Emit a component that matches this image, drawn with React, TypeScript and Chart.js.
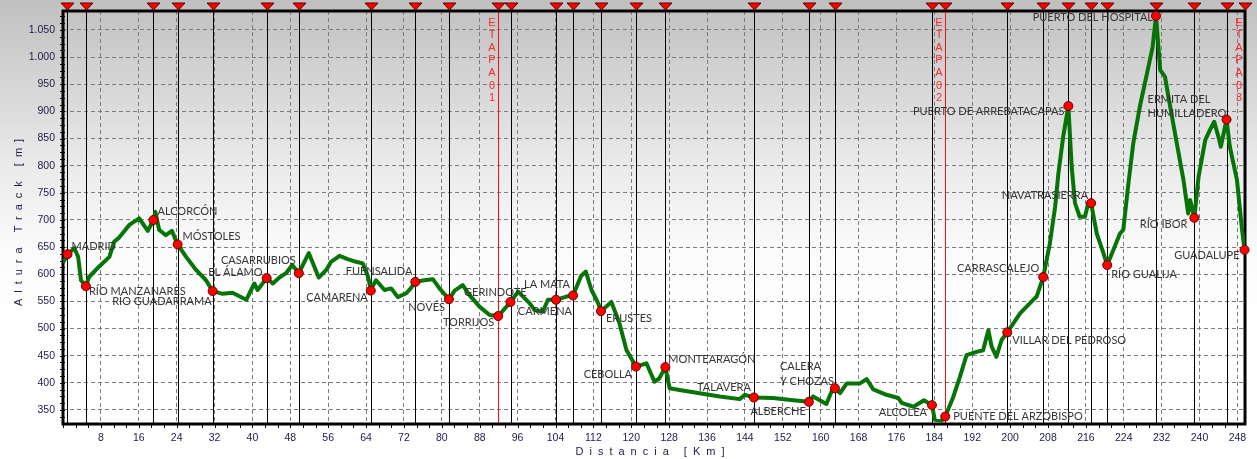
import React, { useEffect, useRef } from 'react';
import { Chart, registerables } from 'chart.js';

Chart.register(...registerables);

// ---------------- DATA ----------------
const PROFILE_KM = [
  0.0, 0.95, 2.4, 3.2, 3.8, 4.84, 5.5, 7.6, 9.8, 10.8, 11.9, 14.0, 16.1, 17.9, 19.1, 19.5, 20.3, 21.7, 23.0, 24.2,
  26.0, 28.1, 30.2, 31.6, 33.7, 35.8, 38.7, 40.4, 41.1, 43.0, 44.3, 45.7, 47.1, 48.4, 49.8, 51.9, 54.0, 55.6, 56.6,
  58.4, 60.1, 61.9, 63.3, 64.4, 65.0, 66.1, 67.9, 69.3, 70.7, 72.5, 73.5, 74.4, 76.3, 78.1, 79.5, 81.5, 82.7, 84.4,
  85.8, 88.0, 90.1, 91.9, 94.5, 96.1, 98.5, 99.6, 101.3, 102.4, 104.1, 106.3, 107.7, 109.4, 110.4, 111.6, 113.0,
  113.6, 115.8, 117.5, 119.0, 121.0, 123.2, 124.9, 125.9, 127.2, 128.1, 130.2, 134.4, 138.7, 142.9, 144.0, 145.9,
  149.9, 154.2, 157.5, 158.4, 161.2, 162.3, 163.0, 164.1, 165.5, 168.3, 169.7, 171.1, 173.9, 176.4, 177.1, 179.6,
  181.8, 183.5, 184.1, 185.5, 186.3, 188.0, 189.4, 190.8, 192.9, 194.3, 195.4, 196.1, 197.1, 198.2, 199.4, 202.1,
  204.2, 205.6, 207.0, 208.4, 209.5, 210.2, 211.2, 212.3, 213.0, 213.7, 214.7, 215.8, 216.5, 217.1, 218.3, 219.7,
  220.5, 222.1, 223.2, 223.9, 224.9, 226.0, 227.4, 229.2, 230.1, 230.8, 231.7, 232.7, 233.8, 235.2, 236.6, 237.6,
  238.0, 238.9, 239.8, 241.2, 242.2, 243.1, 244.0, 244.5, 245.7, 246.4, 247.9, 248.9, 249.5,
];
const PROFILE_ELEV = [
  621, 637, 648, 632, 589, 578, 595, 614, 632, 660, 668, 691, 703, 680, 700, 715, 682, 672, 680, 655,
  632, 608, 589, 569, 564, 566, 553, 583, 571, 593, 583, 594, 602, 617, 602, 639, 594, 608, 623,
  634, 628, 623, 620, 596, 572, 589, 571, 574, 558, 565, 575, 586, 589, 591, 574, 554, 570, 580,
  562, 540, 525, 523, 549, 568, 547, 534, 531, 553, 553, 559, 561, 597, 605, 571, 547,
  532, 549, 510, 460, 430, 436, 402, 408, 429, 390, 387, 381, 375, 370, 378, 373,
  372, 368, 365, 375, 361, 384, 390, 381, 399, 399, 407, 388, 378, 372, 363, 356,
  368, 359, 332, 330, 338, 374, 411, 451, 457, 460, 497, 467, 448, 479, 493, 528,
  547, 559, 595, 657, 724, 786, 853, 910, 798, 731, 706, 706, 731, 731, 675, 639,
  617, 651, 675, 682, 761, 841, 909, 982, 1019, 1076, 976, 964, 909, 841, 774, 712,
  737, 704, 780, 847, 866, 881, 853, 835, 885, 835, 774, 688, 645,
];

const WAYPOINT_NAMES = [
  'MADRID', 'RÍO MANZANARES', 'ALCORCÓN', 'MÓSTOLES', 'RÍO GUADARRAMA', 'EL ÁLAMO', 'CASARRUBIOS', 'CAMARENA',
  'FUENSALIDA', 'NOVÉS', 'TORRIJOS', 'GERINDOTE', 'CARMENA', 'LA MATA', 'ERUSTES', 'CEBOLLA', 'MONTEARAGÓN',
  'TALAVERA', 'ALBERCHE', 'CALERA\nY CHOZAS', 'ALCOLEA', 'PUENTE DEL ARZOBISPO', 'VILLAR DEL PEDROSO',
  'CARRASCALEJO', 'PUERTO DE ARREBATACAPAS', 'NAVATRASIERRA', 'RÍO GUALIJA', 'PUERTO DEL HOSPITAL', 'RÍO IBOR',
  'ERMITA DEL\nHUMILLADERO', 'GUADALUPE',
];
const WAYPOINT_KM = [
  0.95, 4.84, 19.1, 24.2, 31.6, 43.0, 49.8, 65.0, 74.4, 81.5, 91.9, 94.5, 104.1, 107.7, 113.6, 121.0, 127.2,
  145.9, 157.5, 163.0, 183.5, 186.3, 199.4, 207.0, 212.3, 217.1, 220.5, 230.8, 238.9, 245.7, 249.5,
];
const WAYPOINT_ELEV = [
  637, 578, 700, 655, 569, 593, 602, 570, 586, 554, 523, 549, 553, 561, 532, 430, 429,
  373, 365, 390, 359, 338, 493, 595, 910, 731, 617, 1076, 704, 885, 645,
];

const STAGE_KM = [91.9, 186.3, 249.5];
const STAGE_LABELS = ['ETAPA 01', 'ETAPA 02', 'ETAPA 03'];

const X_TICKS = [8, 16, 24, 32, 40, 48, 56, 64, 72, 80, 88, 96, 104, 112, 120, 128, 136, 144, 152, 160, 168, 176, 184, 192, 200, 208, 216, 224, 232, 240, 248];
const Y_TICKS = [350, 400, 450, 500, 550, 600, 650, 700, 750, 800, 850, 900, 950, 1000, 1050];
const X_TITLE = 'Distancia [Km]';
const Y_TITLE = 'Altura Track [m]';

// ---------------- STYLE (label placement relative to its marker) ----------------
const LABEL_PLACEMENT: Array<[CanvasTextAlign, number, number]> = [
  ['left', 4, -8], ['left', 3, 5], ['left', 4, -9], ['left', 5, -8], ['right', -1, 10], ['right', -4, -6],
  ['right', -3, -13], ['right', -3, 7], ['right', -3, -10], ['right', -4, 8], ['right', -4, 6], ['right', 16, -10],
  ['right', 16, 12], ['right', -3, -11], ['left', 5, 7], ['right', -4, 8], ['left', 3, -8], ['right', -3, -10],
  ['right', -3, 10], ['left', -55, -21.5], ['right', -5, 7], ['left', 8, 0], ['left', 5, 8], ['right', -4, -9],
  ['right', -4, 5], ['right', -3, -8], ['left', 4, 9], ['right', -3, 2], ['right', -7, 7], ['left', -79, -20],
  ['right', -5, 6],
];

const GREEN = 'rgb(6,116,6)';
const AXIS_TEXT = '#1c1c48';
const TICK_FONT = { family: '"Liberation Sans", Arial, sans-serif', size: 10.5 };

const fmtThousands = (v: number) => {
  const s = String(Math.round(v));
  return s.length > 3 ? s.slice(0, s.length - 3) + '.' + s.slice(s.length - 3) : s;
};

const decorPlugin = {
  id: 'profileDecor',
  beforeDraw(chart: any) {
    const { ctx, width, height } = chart;
    const g = ctx.createLinearGradient(0, 0, 0, height);
    g.addColorStop(0, '#c0c0c0');
    g.addColorStop(0.35, '#e9e9e9');
    g.addColorStop(0.55, '#fbfbfb');
    g.addColorStop(0.7, '#ffffff');
    g.addColorStop(1, '#ffffff');
    ctx.save();
    ctx.fillStyle = g;
    ctx.fillRect(0, 0, width, height);
    ctx.restore();
  },
  beforeDatasetsDraw(chart: any) {
    const { ctx, chartArea: a, scales } = chart;
    const x = scales.x;
    ctx.save();
    ctx.lineWidth = 1;
    WAYPOINT_KM.forEach((km) => {
      if (STAGE_KM.some((s) => Math.abs(s - km) < 0.05)) return;
      const px = Math.round(x.getPixelForValue(km)) + 0.5;
      ctx.strokeStyle = '#000';
      ctx.beginPath();
      ctx.moveTo(px, a.top);
      ctx.lineTo(px, a.bottom);
      ctx.stroke();
    });
    STAGE_KM.forEach((km) => {
      const px = Math.round(x.getPixelForValue(km)) + 0.5;
      ctx.strokeStyle = '#ff1010';
      ctx.beginPath();
      ctx.moveTo(px, a.top);
      ctx.lineTo(px, a.bottom);
      ctx.stroke();
    });
    // frame
    ctx.strokeStyle = '#000';
    ctx.lineWidth = 3;
    ctx.strokeRect(a.left, a.top, a.right - a.left, a.bottom - a.top);
    // minor ticks
    ctx.lineWidth = 1;
    for (let k = 0; k <= 249.6; k += 8 / 3) {
      const px = Math.round(x.getPixelForValue(k)) + 0.5;
      ctx.beginPath();
      ctx.moveTo(px, a.bottom + 1);
      ctx.lineTo(px, a.bottom + 4);
      ctx.stroke();
    }
    const y = scales.y;
    for (let v = 337.5; v <= 1085; v += 12.5) {
      const py = Math.round(y.getPixelForValue(v)) + 0.5;
      ctx.beginPath();
      ctx.moveTo(a.left - 3, py);
      ctx.lineTo(a.left + 2, py);
      ctx.stroke();
    }
    ctx.restore();
  },
  afterDatasetsDraw(chart: any) {
    const { ctx, chartArea: a, scales } = chart;
    const x = scales.x;
    const y = scales.y;
    ctx.save();
    // waypoint labels
    ctx.font = '11px Lato, "Open Sans", sans-serif';
    ctx.fillStyle = '#363636';
    ctx.textBaseline = 'middle';
    WAYPOINT_NAMES.forEach((name, i) => {
      const [align, dx, dy] = LABEL_PLACEMENT[i];
      const px = x.getPixelForValue(WAYPOINT_KM[i]);
      const py = y.getPixelForValue(WAYPOINT_ELEV[i]);
      ctx.textAlign = align;
      name.split('\n').forEach((line, j) => {
        ctx.fillText(line, px + dx, py + dy + j * 14.3);
      });
    });
    // stage labels
    ctx.font = '11px "Liberation Sans", Arial, sans-serif';
    ctx.fillStyle = '#ff2a2a';
    ctx.textAlign = 'center';
    STAGE_KM.forEach((km, i) => {
      const px = Math.round(x.getPixelForValue(km)) - 6;
      const letters = STAGE_LABELS[i].replace(/\s/g, '').split('');
      letters.forEach((ch, j) => {
        ctx.fillText(ch, px, a.top + 11.5 + j * 12.6);
      });
    });
    ctx.restore();
  },
  afterDraw(chart: any) {
    const { ctx, chartArea: a, scales } = chart;
    const x = scales.x;
    ctx.save();
    // triangles
    WAYPOINT_KM.forEach((km) => {
      const px = Math.round(x.getPixelForValue(km)) + 0.5;
      ctx.beginPath();
      ctx.moveTo(px - 6.5, a.top - 8);
      ctx.lineTo(px + 6.5, a.top - 8);
      ctx.lineTo(px, a.top - 1);
      ctx.closePath();
      ctx.fillStyle = '#ff0000';
      ctx.fill();
      ctx.strokeStyle = '#5a0000';
      ctx.lineWidth = 1;
      ctx.stroke();
    });
    // axis titles
    ctx.fillStyle = AXIS_TEXT;
    ctx.font = '11px "Liberation Sans", Arial, sans-serif';
    ctx.textAlign = 'center';
    ctx.textBaseline = 'middle';
    try { (ctx as any).letterSpacing = '6px'; } catch (e) { /* ignore */ }
    ctx.fillText(X_TITLE, (a.left + a.right) / 2 - 1, 452);
    ctx.translate(19, (a.top + a.bottom) / 2 + 2);
    ctx.rotate(-Math.PI / 2);
    ctx.fillText(Y_TITLE, 0, 0);
    ctx.restore();
  },
};

export default function App() {
  const ref = useRef<HTMLCanvasElement>(null);
  useEffect(() => {
    const canvas = ref.current;
    if (!canvas) return;
    const chart = new Chart(canvas, {
      type: 'scatter',
      data: {
        datasets: [
          {
            label: 'Perfil',
            data: PROFILE_KM.map((km, i) => ({ x: km, y: PROFILE_ELEV[i] })),
            showLine: true,
            borderColor: GREEN,
            backgroundColor: GREEN,
            borderWidth: 4,
            pointRadius: 0,
            tension: 0,
            borderJoinStyle: 'round',
            order: 2,
          } as any,
          {
            label: 'Puntos',
            data: WAYPOINT_KM.map((km, i) => ({ x: km, y: WAYPOINT_ELEV[i] })),
            pointRadius: 4.5,
            backgroundColor: '#ff0000',
            borderColor: '#6a0000',
            borderWidth: 1,
            clip: false,
            order: 1,
          } as any,
        ],
      },
      options: {
        responsive: false,
        animation: false,
        devicePixelRatio: 1,
        layout: { padding: { top: 11, right: 12, left: 0, bottom: 0 } },
        plugins: { legend: { display: false }, tooltip: { enabled: false }, title: { display: false } },
        scales: {
          x: {
            type: 'linear',
            min: 0,
            max: 249.6,
            afterBuildTicks: (s: any) => { s.ticks = X_TICKS.map((v) => ({ value: v })); },
            afterFit: (s: any) => { s.height = 35; s.paddingLeft = 0; s.paddingRight = 0; },
            grid: { color: '#7c7c7c', lineWidth: 1, drawTicks: false },
            border: { display: false, dash: [4, 3] },
            ticks: { padding: 8, color: AXIS_TEXT, font: TICK_FONT, autoSkip: false, maxRotation: 0, callback: (v: any) => String(v) },
          },
          y: {
            type: 'linear',
            min: 324.2,
            max: 1085,
            afterBuildTicks: (s: any) => { s.ticks = Y_TICKS.map((v) => ({ value: v })); },
            afterFit: (s: any) => { s.width = 63; s.paddingTop = 0; s.paddingBottom = 0; },
            grid: { color: '#7c7c7c', lineWidth: 1, drawTicks: false },
            border: { display: false, dash: [4, 3] },
            ticks: { padding: 8, color: AXIS_TEXT, font: TICK_FONT, autoSkip: false, callback: (v: any) => fmtThousands(Number(v)) },
          },
        },
      } as any,
      plugins: [decorPlugin as any],
    });
    return () => chart.destroy();
  }, []);
  return (
    <div style={{ position: 'fixed', left: 0, top: 0, width: 1257, height: 459 }}>
      <canvas ref={ref} width={1257} height={459} style={{ display: 'block', width: 1257, height: 459 }} />
    </div>
  );
}
